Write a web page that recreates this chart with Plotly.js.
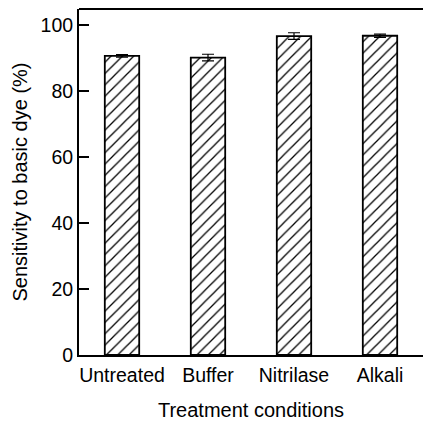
<!DOCTYPE html>
<html>
<head>
<meta charset="utf-8">
<script src="https://cdn.plot.ly/plotly-3.0.1.min.js"></script>
<style>
  html, body { margin: 0; padding: 0; background: #fff; }
  #chart { width: 423px; height: 421px; }
</style>
</head>
<body>
<div id="chart"></div>
<script>
// Treatment groups and their mean sensitivity with standard deviation
const treatments = ["Untreated", "Buffer", "Nitrilase", "Alkali"];
const sensitivity = [90.6, 90.1, 96.6, 96.7];
const sensitivityErr = [0.4, 1.0, 1.0, 0.5];

const trace = {
  type: "bar",
  x: treatments,
  y: sensitivity,
  width: 0.4,
  marker: {
    color: "#ffffff",
    line: { color: "#000000", width: 1.8 },
    pattern: { shape: "/", fgcolor: "#000000", bgcolor: "#ffffff", size: 8, solidity: 0.16 }
  },
  error_y: {
    type: "data",
    array: sensitivityErr,
    visible: true,
    color: "#000000",
    thickness: 1.2,
    width: 6
  },
  hoverinfo: "skip"
};

const tickFont = { family: "Liberation Sans, Arial, sans-serif", size: 19.5, color: "#000000" };
const titleFont = { family: "Liberation Sans, Arial, sans-serif", size: 20, color: "#000000" };

const layout = {
  width: 423,
  height: 421,
  margin: { l: 79, r: 0, t: 9, b: 66 },
  paper_bgcolor: "#ffffff",
  plot_bgcolor: "#ffffff",
  showlegend: false,
  font: tickFont,
  xaxis: {
    type: "category",
    range: [-0.5, 3.5],
    showline: true,
    linecolor: "#000000",
    linewidth: 2,
    ticks: "",
    ticklabelstandoff: 2,
    showgrid: false,
    zeroline: false,
    tickfont: tickFont,
    title: { text: "Treatment conditions", font: titleFont, standoff: 22 }
  },
  yaxis: {
    range: [0, 104.8],
    tickvals: [0, 20, 40, 60, 80, 100],
    showline: true,
    linecolor: "#000000",
    linewidth: 2,
    ticks: "inside",
    ticklen: 10,
    tickwidth: 2,
    tickcolor: "#000000",
    showgrid: false,
    zeroline: false,
    tickfont: tickFont,
    title: { text: "Sensitivity to basic dye (%)", font: titleFont, standoff: 8 }
  },
  shapes: [
    {
      type: "line", xref: "paper", yref: "paper",
      x0: 0, x1: 1, y0: 1, y1: 1,
      line: { color: "#000000", width: 2 }
    }
  ]
};

Plotly.newPlot("chart", [trace], layout, { staticPlot: true, displayModeBar: false });
</script>
</body>
</html>
